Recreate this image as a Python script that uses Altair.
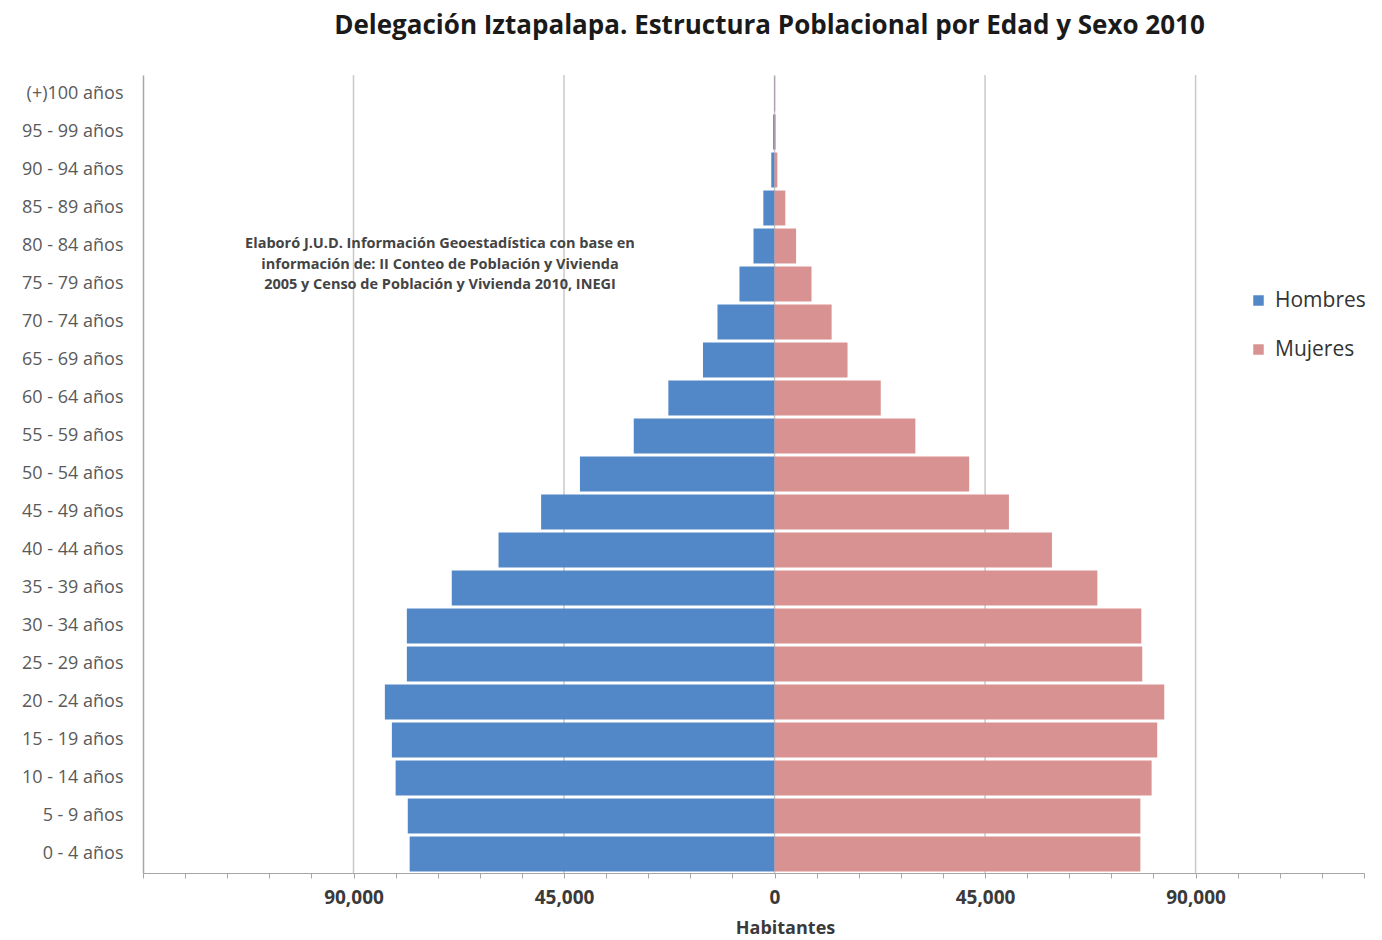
import altair as alt
import pandas as pd

# Grupos quinquenales de edad, de mayor a menor (orden de arriba hacia abajo)
grupos = [
    "(+)100 años", "95 - 99 años", "90 - 94 años", "85 - 89 años", "80 - 84 años",
    "75 - 79 años", "70 - 74 años", "65 - 69 años", "60 - 64 años", "55 - 59 años",
    "50 - 54 años", "45 - 49 años", "40 - 44 años", "35 - 39 años", "30 - 34 años",
    "25 - 29 años", "20 - 24 años", "15 - 19 años", "10 - 14 años", "5 - 9 años",
    "0 - 4 años",
]
hombres = [100, 300, 700, 2400, 4500, 7500, 12200, 15300, 22700, 30100,
           41600, 49900, 59000, 69000, 78600, 78600, 83300, 81800, 81000, 78400, 78000]
mujeres = [150, 250, 600, 2300, 4600, 7900, 12200, 15600, 22700, 30100,
           41600, 50100, 59300, 69000, 78400, 78600, 83300, 81800, 80600, 78200, 78200]

sexos = ["Hombres", "Mujeres"]
colores = ["#5287C8", "#D99292"]

lineas_guia = [-90000, -45000, 0, 45000, 90000]
marcas_menores = list(range(-135000, 126001, 9000))

nota = [
    "Elaboró J.U.D. Información Geoestadística con base en",
    "información de: II Conteo de Población y Vivienda",
    "2005 y Censo de Población y Vivienda 2010, INEGI",
]

FUENTE = "Open Sans"
ANCHO, ALTO = 1221, 798

filas = []
for g, h, m in zip(grupos, hombres, mujeres):
    filas.append({"grupo": g, "sexo": "Hombres", "valor": -h})
    filas.append({"grupo": g, "sexo": "Mujeres", "valor": m})
df = pd.DataFrame(filas)

escala_x = alt.Scale(domain=[-135000, 126000], nice=False, zero=False)

eje_x = alt.Axis(
    orient="bottom",
    values=marcas_menores,
    labelExpr="(datum.value % 45000 === 0 && abs(datum.value) <= 90000) ? format(abs(datum.value), ',') : ''",
    grid=False,
    tickSize=5,
    tickColor="#a6a6a6",
    domainColor="#a6a6a6",
    labelFont=FUENTE,
    labelFontSize=19,
    labelFontWeight="bold",
    labelColor="#3a3a3a",
    labelPadding=10,
    title="Habitantes",
    titleFont=FUENTE,
    titleFontSize=18,
    titleFontWeight="bold",
    titleColor="#3a3a3a",
    titleX=642,
    titleY=55,
    titleAlign="center",
    titleBaseline="middle",
)

eje_y = alt.Axis(
    orient="left",
    title=None,
    ticks=False,
    grid=False,
    domainColor="#a6a6a6",
    domainWidth=1.5,
    labelFont=FUENTE,
    labelFontSize=18,
    labelColor="#5a5a5a",
    labelPadding=20,
)

# Líneas de cuadrícula principales (cada 45,000 habitantes)
guias = alt.Chart(pd.DataFrame({"v": lineas_guia})).mark_rule(
    color="#c9c9c9", strokeWidth=1.5
).encode(x=alt.X("v:Q", scale=escala_x, axis=eje_x))

barras = alt.Chart(df).mark_bar().encode(
    x=alt.X("valor:Q", scale=escala_x, axis=eje_x),
    y=alt.Y(
        "grupo:N",
        sort=grupos,
        axis=eje_y,
        scale=alt.Scale(paddingInner=0.08, paddingOuter=0.04),
    ),
    color=alt.Color(
        "sexo:N",
        scale=alt.Scale(domain=sexos, range=colores),
        legend=alt.Legend(
            title=None,
            orient="none",
            legendX=1105,
            legendY=215,
            symbolType="square",
            symbolSize=110,
            symbolStrokeWidth=0,
            labelFont=FUENTE,
            labelFontSize=21,
            labelColor="#333333",
            labelOffset=6,
            rowPadding=27,
        ),
    ),
)

texto = alt.Chart(pd.DataFrame({"t": [nota]})).mark_text(
    font=FUENTE,
    fontSize=14.5,
    fontWeight="bold",
    color="#444444",
    align="center",
    baseline="middle",
    lineHeight=20.5,
).encode(x=alt.value(297), y=alt.value(169), text="t")

chart = (
    alt.layer(guias, barras, texto)
    .properties(
        width=ANCHO,
        height=ALTO,
        background="white",
        title=alt.TitleParams(
            "Delegación Iztapalapa. Estructura Poblacional por Edad y Sexo 2010",
            font=FUENTE,
            fontSize=26,
            fontWeight="bold",
            color="#1a1a1a",
            anchor="middle",
            dx=16,
            offset=35,
        ),
        autosize=alt.AutoSizeParams(type="none"),
        padding={"left": 143, "top": 75, "right": 18, "bottom": 67},
    )
    .configure_view(stroke="transparent", strokeWidth=0)
)

chart.save("out.html", embed_options={"renderer": "svg", "actions": False})
